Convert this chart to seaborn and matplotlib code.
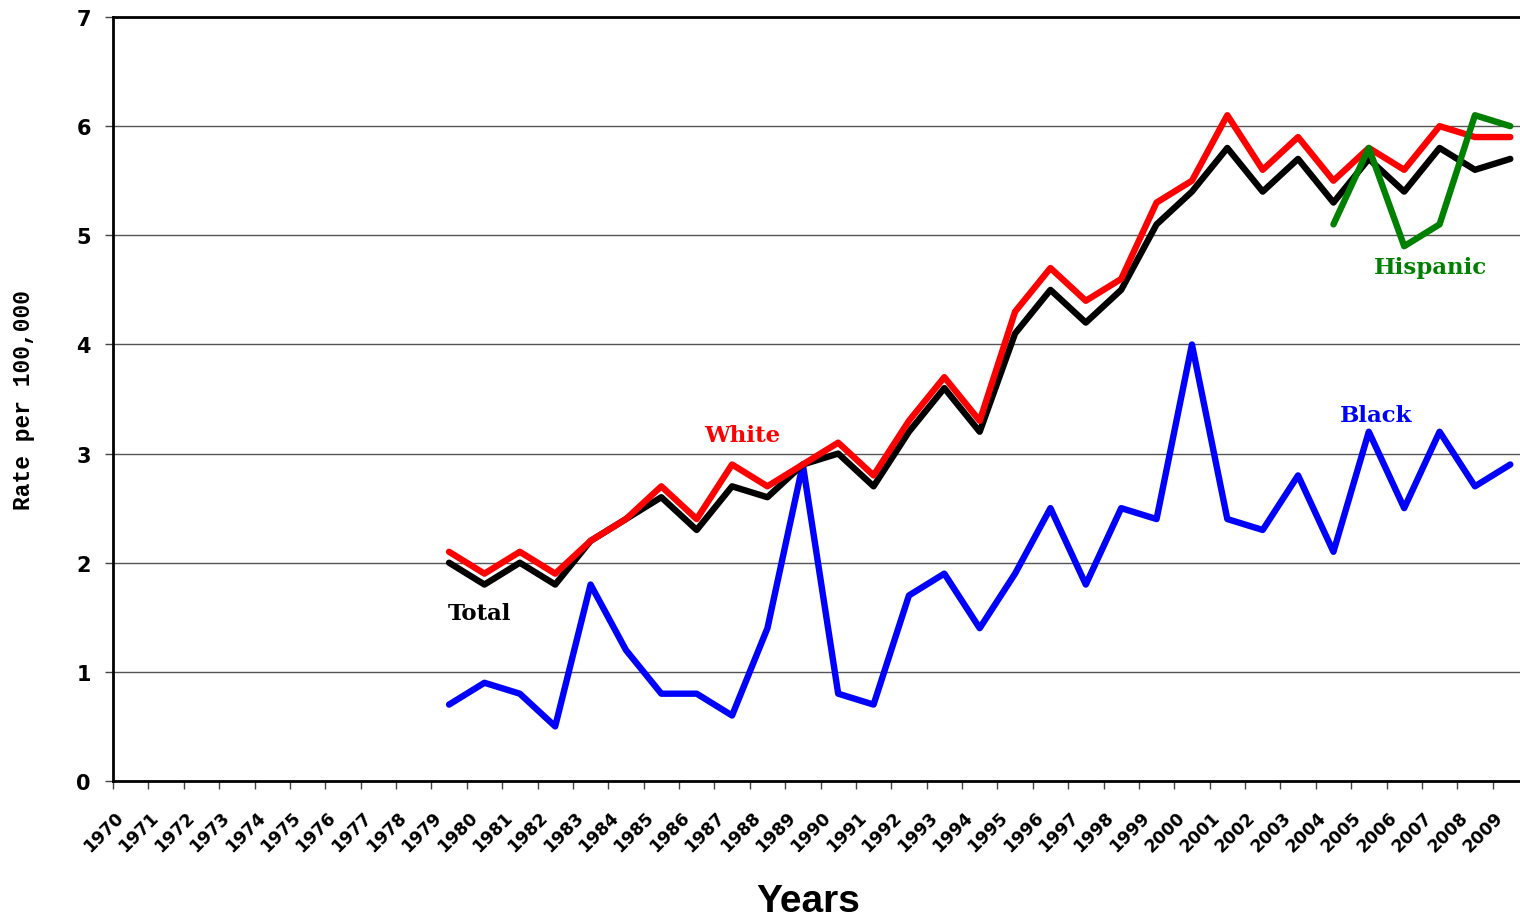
import numpy as np
import pandas as pd
import matplotlib
matplotlib.use("Agg")
import matplotlib.pyplot as plt
import matplotlib.transforms as mtransforms
import seaborn as sns

##################################  DATA  #####################################

years_all = list(range(1970, 2010))            # categories on the x axis
years_obs = list(range(1979, 2010))            # years with data

total = [2.0, 1.8, 2.0, 1.8, 2.2, 2.4, 2.6, 2.3, 2.7, 2.6, 2.9, 3.0, 2.7, 3.2, 3.6, 3.2,
         4.1, 4.5, 4.2, 4.5, 5.1, 5.4, 5.8, 5.4, 5.7, 5.3, 5.7, 5.4, 5.8, 5.6, 5.7]
white = [2.1, 1.9, 2.1, 1.9, 2.2, 2.4, 2.7, 2.4, 2.9, 2.7, 2.9, 3.1, 2.8, 3.3, 3.7, 3.3,
         4.3, 4.7, 4.4, 4.6, 5.3, 5.5, 6.1, 5.6, 5.9, 5.5, 5.8, 5.6, 6.0, 5.9, 5.9]
black = [0.7, 0.9, 0.8, 0.5, 1.8, 1.2, 0.8, 0.8, 0.6, 1.4, 2.9, 0.8, 0.7, 1.7, 1.9, 1.4,
         1.9, 2.5, 1.8, 2.5, 2.4, 4.0, 2.4, 2.3, 2.8, 2.1, 3.2, 2.5, 3.2, 2.7, 2.9]
hisp_years = [2004, 2005, 2006, 2007, 2008, 2009]
hispanic = [5.1, 5.8, 4.9, 5.1, 6.1, 6.0]

groups = ["Total", "White", "Black", "Hispanic"]
colors = {"Total": "#000000", "White": "#ff0000", "Black": "#0000ff", "Hispanic": "#008000"}

y_ticks = list(range(0, 8))

##############################################################################

frames = [
    pd.DataFrame({"year": years_obs, "rate": total, "group": "Total"}),
    pd.DataFrame({"year": years_obs, "rate": black, "group": "Black"}),
    pd.DataFrame({"year": years_obs, "rate": white, "group": "White"}),
    pd.DataFrame({"year": hisp_years, "rate": hispanic, "group": "Hispanic"}),
]
df = pd.concat(frames, ignore_index=True)

sns.set_style("white")
plt.rcParams["text.color"] = "black"
plt.rcParams["xtick.color"] = "black"
plt.rcParams["ytick.color"] = "black"

fig = plt.figure(figsize=(15.2, 9.2), dpi=100)
ax = fig.add_axes([113 / 1520, 138 / 920, 1415 / 1520, 764 / 920])

for g in ["Black", "Total", "White", "Hispanic"]:
    sub = df[df["group"] == g]
    sns.lineplot(data=sub, x="year", y="rate", color=colors[g], lw=4.6,
                 solid_joinstyle="round", solid_capstyle="round", ax=ax, legend=False)

ax.set_xlim(years_all[0] - 0.5, years_all[-1] + 0.5)
ax.set_ylim(0, 7)

# y axis
ax.set_yticks(y_ticks)
ax.set_yticklabels([str(v) for v in y_ticks], fontsize=15, fontweight="bold",
                   family="DejaVu Sans")
ax.yaxis.grid(True, color="#555555", lw=1)
ax.set_axisbelow(True)
ax.tick_params(axis="y", which="major", length=6, width=1, direction="out",
               color="#444444", labelcolor="black", pad=10, left=True)

# x axis: marks on category boundaries, labels on centres
ax.set_xticks([y - 0.5 for y in years_all] + [years_all[-1] + 0.5], minor=True)
ax.set_xticks(years_all)
ax.set_xticklabels([str(y) for y in years_all], fontsize=12.5, fontweight="bold",
                   rotation=45, ha="right", va="center", rotation_mode="anchor",
                   family="DejaVu Sans")
ax.tick_params(axis="x", which="major", length=0, pad=24, labelcolor="black")
ax.tick_params(axis="x", which="minor", length=6, width=1, direction="out",
               color="#444444", bottom=True)
shift = mtransforms.ScaledTranslation(-10 / 100, 0, fig.dpi_scale_trans)
for lbl in ax.get_xticklabels():
    lbl.set_transform(lbl.get_transform() + shift)

for side in ["left", "bottom", "top"]:
    ax.spines[side].set_visible(True)
    ax.spines[side].set_color("black")
    ax.spines[side].set_linewidth(2)
ax.spines["right"].set_visible(False)

ax.set_xlabel("")
ax.set_ylabel("")
fig.text(808 / 1520, 1 - 902 / 920, "Years", fontsize=28, fontweight="bold",
         family="Liberation Sans", ha="center", va="center", color="black")
fig.text(24 / 1520, 1 - 400 / 920, "Rate per 100,000", fontsize=16.5, fontweight="bold",
         family="Liberation Mono", rotation=90, ha="center", va="center", color="black")

# series labels
lab_kw = dict(fontsize=16.5, fontweight="bold", family="DejaVu Serif")
ax.text(1978.95, 1.54, "Total", color=colors["Total"], ha="left", va="center", **lab_kw)
ax.text(1987.3, 3.17, "White", color=colors["White"], ha="center", va="center", **lab_kw)
ax.text(2005.2, 3.35, "Black", color=colors["Black"], ha="center", va="center", **lab_kw)
ax.text(2006.75, 4.71, "Hispanic", color=colors["Hispanic"], ha="center", va="center", **lab_kw)

fig.savefig("out.png", dpi=100)
